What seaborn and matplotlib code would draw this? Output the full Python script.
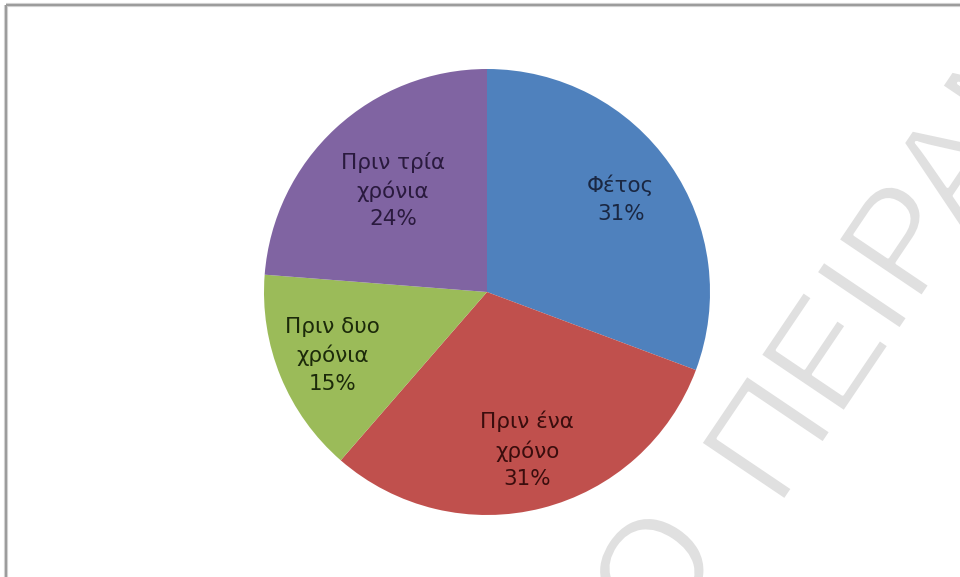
import matplotlib
matplotlib.use("Agg")
import matplotlib.pyplot as plt
from matplotlib.lines import Line2D
import matplotlib.patheffects as pe
import numpy as np
import seaborn as sns

# Data
categories = ["Φέτος", "Πριν ένα\nχρόνο", "Πριν δυο\nχρόνια", "Πριν τρία\nχρόνια"]
values = [31, 31, 15, 24]

# Style
colors = sns.color_palette(["#4F81BD", "#C0504D", "#9BBB59", "#8064A2"])
text_colors = ["#1a2742", "#3a0d0d", "#1c2a0a", "#2a1a3e"]
label_radius = [0.73, 0.73, 0.75, 0.62]

sns.set_theme(style="white")
plt.rcParams["font.family"] = ["DejaVu Sans"]

W, H = 960, 577
fig = plt.figure(figsize=(W / 100, H / 100), dpi=100)
fig.patch.set_facecolor("white")

# pie placed as a circle centred at (487, 292) px with radius 223 px
cx, cy, r = 487, 292, 223
ax = fig.add_axes([(cx - r) / W, (H - cy - r) / H, 2 * r / W, 2 * r / H])
wedges, _ = ax.pie(values, colors=colors, startangle=90, counterclock=False,
                   wedgeprops=dict(linewidth=0))
ax.set_xlim(-1, 1)
ax.set_ylim(-1, 1)
ax.axis("off")

for w, cat, v, tc, lr in zip(wedges, categories, values, text_colors, label_radius):
    ang = np.deg2rad((w.theta1 + w.theta2) / 2)
    ax.text(lr * np.cos(ang), lr * np.sin(ang), f"{cat}\n{v}%",
            ha="center", va="center", fontsize=15.5, color=tc,
            linespacing=1.45)

# watermark, drawn behind the chart; a white outline thins the glyph strokes
wm = dict(rotation=56, rotation_mode="anchor", ha="left", va="baseline",
          fontsize=106, color="#e0e0e0", family=["Liberation Sans", "DejaVu Sans"],
          zorder=-1,
          path_effects=[pe.Normal(), pe.Stroke(linewidth=2.2, foreground="white")])
fig.text(662 / W, 1 - 646 / H, "Ο", **wm)
fig.text(778 / W, 1 - 510 / H, "ΠΕΙΡΑΜΑ", **wm)

# frame lines on top and left
for lw, col in [(3.0, "#d8d8d8"), (1.6, "#9c9c9c")]:
    fig.add_artist(Line2D([5.5 / W, 5.5 / W], [0, 1 - 4.5 / H], transform=fig.transFigure,
                          color=col, lw=lw, solid_capstyle="butt"))
    fig.add_artist(Line2D([5.5 / W, 1], [1 - 4.5 / H, 1 - 4.5 / H], transform=fig.transFigure,
                          color=col, lw=lw, solid_capstyle="butt"))

fig.savefig("out.png", dpi=100)
